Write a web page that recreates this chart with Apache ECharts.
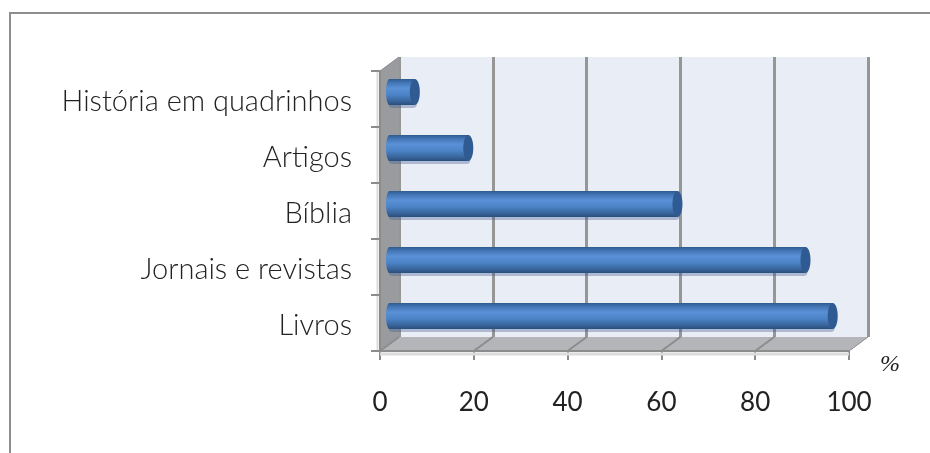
<!DOCTYPE html>
<html>
<head>
<meta charset="utf-8">
<style>html,body{margin:0;padding:0;background:#fff}#main{width:930px;height:453px}</style>
<script src="https://cdn.jsdelivr.net/npm/echarts@6/dist/echarts.min.js"></script>
</head>
<body>
<div id="main"></div>
<script>
var categories = ['Livros', 'Jornais e revistas', 'Bíblia', 'Artigos', 'História em quadrinhos'];
var values = [94.5, 88.7, 61.4, 16.8, 5.4];
var xTicks = [0, 20, 40, 60, 80, 100];
var unitLabel = '%';

var labelFont = 'Lato';
var depthX = 19, depthY = -14;
var barThick = 26;

// side wall and floor of the fake 3d box
function renderBox(params, api) {
  var band = api.size([0, 1])[1];
  var first = api.coord([0, 0]);
  var last = api.coord([0, categories.length - 1]);
  var a = [first[0], first[1] + band / 2];
  var b = [last[0], last[1] - band / 2];
  var c = [api.coord([100, 0])[0], a[1]];
  var kids = [
    { type: 'polygon', shape: { points: [a, b, [b[0] + depthX, b[1] + depthY], [a[0] + depthX, a[1] + depthY]] },
      style: { fill: '#9a9b9e' } },
    { type: 'polygon', shape: { points: [a, c, [c[0] + depthX, c[1] + depthY], [a[0] + depthX, a[1] + depthY]] },
      style: { fill: '#b3b5b8' } }
  ];
  xTicks.forEach(function (t) {
    var x = api.coord([t, 0])[0];
    kids.push({ type: 'line', shape: { x1: x, y1: a[1], x2: x + depthX, y2: a[1] + depthY },
      style: { stroke: '#8c8c8c', lineWidth: t === 100 ? 1 : 2 } });
  });
  // front edges
  kids.push({ type: 'line', shape: { x1: a[0], y1: a[1], x2: c[0], y2: c[1] },
    style: { stroke: '#8c8c8c', lineWidth: 2 } });
  kids.push({ type: 'line', shape: { x1: a[0], y1: a[1] + 3, x2: c[0], y2: c[1] + 3 },
    style: { stroke: '#dcdcdc', lineWidth: 3 } });
  kids.push({ type: 'line', shape: { x1: a[0] - 2.5, y1: a[1], x2: b[0] - 2.5, y2: b[1] },
    style: { stroke: '#dcdcdc', lineWidth: 2 } });
  kids.push({ type: 'line', shape: { x1: b[0], y1: b[1], x2: b[0] + depthX, y2: b[1] + depthY },
    style: { stroke: '#8c8c8c', lineWidth: 1 } });
  return { type: 'group', children: kids };
}

// cylinder bar, drawn half way into the box depth
function renderBar(params, api) {
  var start = api.coord([0, api.value(1)]);
  var end = api.coord([api.value(0), api.value(1)]);
  var x0 = start[0] + depthX / 2;
  var x1 = end[0] + depthX / 2;
  var y = start[1] + depthY / 2;
  var h = barThick;
  var body = new echarts.graphic.LinearGradient(0, 0, 0, 1, [
    { offset: 0, color: '#315a8c' },
    { offset: 0.12, color: '#3f72b0' },
    { offset: 0.35, color: '#5a90d6' },
    { offset: 0.6, color: '#4c84c8' },
    { offset: 0.85, color: '#38659c' },
    { offset: 1, color: '#2a4f7d' }
  ]);
  return {
    type: 'group',
    children: [
      { type: 'rect', shape: { x: x0 - 1, y: y - h / 2 + 1, width: x1 - x0 + 3, height: h + 2, r: 4 },
        style: { fill: 'rgba(60,90,140,0.35)' } },
      { type: 'ellipse', shape: { cx: x0, cy: y, rx: 3.5, ry: h / 2 }, style: { fill: body } },
      { type: 'rect', shape: { x: x0, y: y - h / 2, width: x1 - x0, height: h }, style: { fill: body } },
      { type: 'ellipse', shape: { cx: x1, cy: y, rx: 5, ry: h / 2 }, style: { fill: '#2f5a92' } }
    ]
  };
}

var myChart = echarts.init(document.getElementById('main'));

var option = {
  animation: false,
  backgroundColor: '#fff',
  graphic: [
    { type: 'rect', z: -1, shape: { x: 10, y: 13, width: 940, height: 460 },
      style: { fill: '#fff', stroke: '#8e8e8e', lineWidth: 2 } },
    { type: 'text', left: 880, top: 353,
      style: { text: unitLabel, font: 'italic 24px "Liberation Serif"', fill: '#222' } }
  ],
  grid: [
    { left: 380, top: 71, width: 469, height: 280 },
    { left: 399, top: 57, width: 469, height: 280, show: true, backgroundColor: '#e9edf6', borderWidth: 0 }
  ],
  xAxis: [
    {
      gridIndex: 0, type: 'value', min: 0, max: 100, interval: 20,
      axisLine: { show: false },
      axisTick: { show: true, length: 9, lineStyle: { color: '#8c8c8c', width: 2 } },
      splitLine: { show: false },
      axisLabel: { color: '#222', fontFamily: labelFont, fontSize: 26, margin: 39,
        formatter: function (v) { return xTicks.indexOf(v) >= 0 ? String(v) : ''; } }
    },
    {
      // back wall grid lines, same ticks as the front axis
      gridIndex: 1, type: 'value', min: 0, max: 100, interval: 20,
      axisLine: { show: false }, axisTick: { show: false }, axisLabel: { show: false },
      splitLine: { show: true, lineStyle: { color: '#969696', width: 3 } }
    }
  ],
  yAxis: [
    {
      gridIndex: 0, type: 'category', data: categories, z: 5,
      axisLine: { show: true, lineStyle: { color: '#8c8c8c', width: 2 } },
      axisTick: { show: true, length: 9, lineStyle: { color: '#8c8c8c', width: 2 } },
      axisLabel: {
        margin: 28,
        formatter: function (v) { return '{t|' + v + '}'; },
        rich: { t: { color: '#222', fontFamily: labelFont, fontWeight: 300, fontSize: 29, padding: [6, 0, 0, 0] } }
      }
    },
    {
      gridIndex: 1, type: 'category', data: categories,
      axisLine: { show: false }, axisTick: { show: false }, axisLabel: { show: false }
    }
  ],
  series: [
    {
      type: 'custom', xAxisIndex: 0, yAxisIndex: 0, z: 3, silent: true,
      renderItem: renderBox, data: [[0, 0]], clip: false
    },
    {
      type: 'custom', xAxisIndex: 0, yAxisIndex: 0, z: 4, silent: true,
      renderItem: renderBar, clip: false,
      encode: { x: 0, y: 1 },
      data: values.map(function (v, i) { return [v, i]; })
    }
  ]
};
myChart.setOption(option);
window.addEventListener('resize', function () {
  myChart.resize();
});
</script>
</body>
</html>
